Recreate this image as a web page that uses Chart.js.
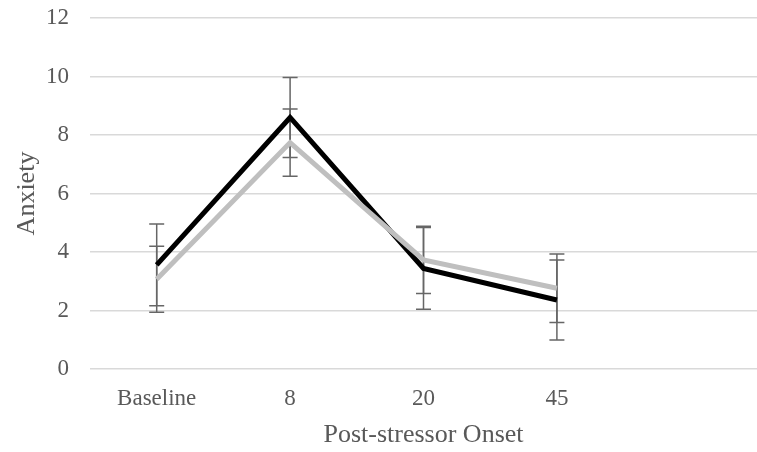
<!DOCTYPE html>
<html>
<head>
<meta charset="utf-8">
<script src="https://cdn.jsdelivr.net/npm/chart.js@4/dist/chart.umd.min.js"></script>
<style>
  body { margin: 0; background: #fff; }
  #wrap { width: 757px; height: 452px; }
</style>
</head>
<body>
<div id="wrap"><canvas id="anxiety_chart"></canvas></div>
<script>
  // categories (last slot is empty, like the original sheet)
  const time_labels = ['Baseline', '8', '20', '45', ''];

  // black series
  const black_values = [3.56, 8.6, 3.44, 2.36];
  const black_err = [1.4, 1.37, 1.4, 1.37];

  // gray series
  const gray_values = [3.07, 7.74, 3.73, 2.76];
  const gray_err = [1.13, 1.15, 1.15, 1.17];

  const y_ticks = [0, 2, 4, 6, 8, 10, 12];

  const textColor = '#595959';
  const serif = '"Liberation Serif", "Times New Roman", serif';

  // error bars drawn through the chart scales
  const errorBars = {
    id: 'errorBars',
    beforeDatasetsDraw(chart) {
      const ctx = chart.ctx;
      const x = chart.scales.x;
      const y = chart.scales.y;
      ctx.save();
      ctx.strokeStyle = '#666666';
      ctx.lineWidth = 1.5;
      chart.data.datasets.forEach(ds => {
        ds.data.forEach((v, i) => {
          if (v == null) return;
          const px = x.getPixelForValue(i);
          const top = y.getPixelForValue(v + ds.err[i]);
          const bot = y.getPixelForValue(v - ds.err[i]);
          ctx.beginPath();
          ctx.moveTo(px, top);
          ctx.lineTo(px, bot);
          ctx.moveTo(px - 7.5, top);
          ctx.lineTo(px + 7.5, top);
          ctx.moveTo(px - 7.5, bot);
          ctx.lineTo(px + 7.5, bot);
          ctx.stroke();
        });
      });
      ctx.restore();
    }
  };

  const anxiety_config = {
    type: 'line',
    data: {
      labels: time_labels,
      datasets: [{
        label: 'Series 2',
        data: gray_values,
        err: gray_err,
        borderColor: '#bfbfbf',
        borderWidth: 5,
        order: 0
      }, {
        label: 'Series 1',
        data: black_values,
        err: black_err,
        borderColor: '#000000',
        borderWidth: 5,
        order: 1
      }]
    },
    options: {
      responsive: true,
      maintainAspectRatio: false,
      animation: false,
      layout: { padding: { top: 18, left: 0, right: 0, bottom: 0 } },
      elements: {
        point: { radius: 0, hoverRadius: 0 },
        line: { tension: 0, borderJoinStyle: 'miter', borderCapStyle: 'butt' }
      },
      plugins: {
        legend: { display: false },
        tooltip: { enabled: false }
      },
      scales: {
        x: {
          offset: true,
          grid: { display: false, drawTicks: false },
          border: { display: false },
          ticks: { color: textColor, font: { family: serif, size: 23 }, padding: 16, maxRotation: 0 },
          title: {
            display: true,
            text: 'Post-stressor Onset',
            color: textColor,
            font: { family: serif, size: 26 },
            padding: { top: 0, bottom: 1 }
          },
          afterFit(scale) { scale.height = 83; }
        },
        y: {
          min: 0,
          max: 12,
          afterBuildTicks(scale) { scale.ticks = y_ticks.map(v => ({ value: v })); },
          grid: { color: '#d9d9d9', lineWidth: 1.5, drawTicks: false },
          border: { display: false },
          ticks: { color: textColor, font: { family: serif, size: 23 }, padding: 21 },
          title: {
            display: true,
            text: 'Anxiety',
            color: textColor,
            font: { family: serif, size: 26 },
            padding: { top: 12, bottom: 0 }
          },
          afterFit(scale) {
            scale.width = 90;
            // the tick padding also pads the top/bottom; the layout padding handles it
            scale.paddingTop = 0;
            scale.paddingBottom = 0;
          }
        }
      }
    },
    plugins: [errorBars]
  };

  var anxiety_chart = new Chart(
    document.getElementById('anxiety_chart'),
    anxiety_config
  );
</script>
</body>
</html>
